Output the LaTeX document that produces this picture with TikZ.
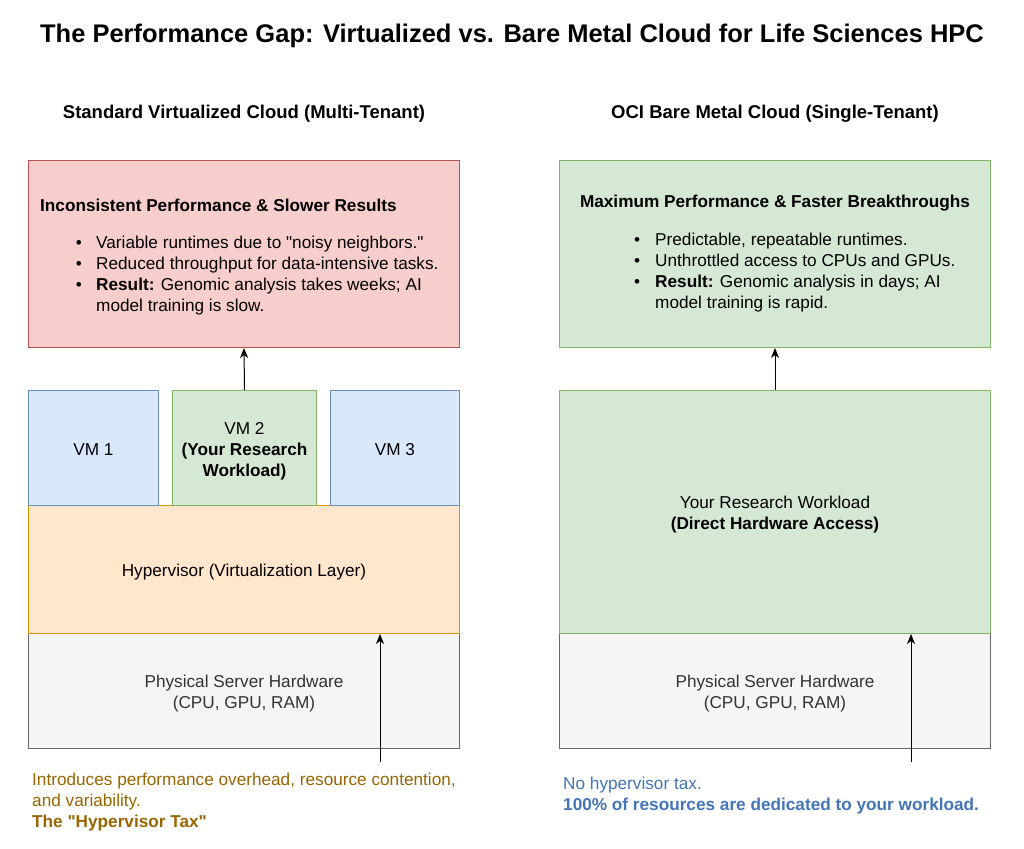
\documentclass[tikz,border=0pt]{standalone}
\usepackage{fontspec}
\setmainfont{Liberation Sans}
\usetikzlibrary{arrows.meta}
\definecolor{redfill}{HTML}{F8CECC}
\definecolor{redline}{HTML}{B85450}
\definecolor{grnfill}{HTML}{D5E8D4}
\definecolor{grnline}{HTML}{82B366}
\definecolor{blufill}{HTML}{DAE8FC}
\definecolor{bluline}{HTML}{6C8EBF}
\definecolor{orgfill}{HTML}{FFE6CC}
\definecolor{orgline}{HTML}{D79B00}
\definecolor{gryfill}{HTML}{F5F5F5}
\definecolor{gryline}{HTML}{666666}
\definecolor{gtext}{HTML}{333333}
\definecolor{browntext}{HTML}{996600}
\definecolor{bluetext}{HTML}{4475B8}
\newcommand{\dq}{\XeTeXglyph\the\XeTeXcharglyph"22\relax}
\newcommand{\lines}[1]{\raisebox{-3pt}[\height][\depth]{\begin{tabular}{@{}c@{}}#1\end{tabular}}}
\begin{document}
\begin{tikzpicture}[x=1pt,y=-1pt,
  box/.style={draw, line width=1pt, inner sep=0pt, anchor=north west,
    font=\fontsize{17.2}{21}\selectfont},
  txt/.style={inner sep=0pt, font=\fontsize{17.2}{21}\selectfont, text height=16pt, text depth=1pt},
  arr/.style={line width=1pt, -{Stealth[length=10pt,width=8pt,inset=3pt]}}]
\useasboundingbox (0,0) rectangle (1024,848);
\fill[white] (0,0) rectangle (1024,848);

\node[inner sep=0pt, font=\fontsize{25.5}{30}\selectfont\bfseries] (title) at (512,35.5) {The Performance Gap: Virtualized vs. Bare Metal Cloud for Life Sciences HPC};
\node[inner sep=0pt, font=\fontsize{18.5}{22}\selectfont\bfseries] (hl) at (244,113.5) {Standard Virtualized Cloud (Multi-Tenant)};
\node[inner sep=0pt, font=\fontsize{18.5}{22}\selectfont\bfseries] (hr) at (775,113.5) {OCI Bare Metal Cloud (Single-Tenant)};

% left column
\node[box, fill=redfill, draw=redline, minimum width=431pt, minimum height=187pt] (red) at (28,160) {};
\node[txt, anchor=west, font=\fontsize{17.2}{21}\selectfont\bfseries] (rt) at (40,204) {Inconsistent Performance \& Slower Results};
\node[txt] (rb1) at (79,241) {•};
\node[txt, anchor=west] (r1) at (96,241) {Variable runtimes due to \dq noisy neighbors.\dq};
\node[txt] (rb2) at (79,262) {•};
\node[txt, anchor=west] (r2) at (96,262) {Reduced throughput for data-intensive tasks.};
\node[txt] (rb3) at (79,283) {•};
\node[txt, anchor=west] (r3) at (96,283) {\textbf{Result:} Genomic analysis takes weeks; AI};
\node[txt, anchor=west] (r4) at (96,304) {model training is slow.};

\node[box, fill=gryfill, draw=gryline, text=gtext, minimum width=431pt, minimum height=115pt] (hwl) at (28,633) {\lines{Physical Server Hardware\\(CPU, GPU, RAM)}};
\node[box, fill=orgfill, draw=orgline, minimum width=431pt, minimum height=128pt] (hyp) at (28,505) {\lines{Hypervisor (Virtualization Layer)}};
\node[box, fill=blufill, draw=bluline, minimum width=130pt, minimum height=115pt] (vm1) at (28,390) {\lines{VM 1}};
\node[box, fill=grnfill, draw=grnline, minimum width=144pt, minimum height=115pt] (vm2) at (172,390) {\lines{VM 2\\\textbf{(Your Research}\\\textbf{Workload)}}};
\node[box, fill=blufill, draw=bluline, minimum width=129pt, minimum height=115pt] (vm3) at (330,390) {\lines{VM 3}};

\draw[arr] (vm2.north) -- (red.south);
\coordinate (tl) at (380,762);
\draw[arr] (tl) -- (tl |- hyp.south);

\node[txt, anchor=west, text=browntext] (bl1) at (32,778) {Introduces performance overhead, resource contention,};
\node[txt, anchor=west, text=browntext] (bl2) at (32,799) {and variability.};
\node[txt, anchor=west, text=browntext, font=\fontsize{17.2}{21}\selectfont\bfseries] (bl3) at (32,820) {The \dq Hypervisor Tax\dq};

% right column
\node[box, fill=grnfill, draw=grnline, minimum width=431pt, minimum height=187pt] (grn) at (559,160) {};
\node[txt, font=\fontsize{17.2}{21}\selectfont\bfseries] (gt) at (775,200) {Maximum Performance \& Faster Breakthroughs};
\node[txt] (gb1) at (637,238) {•};
\node[txt, anchor=west] (g1) at (655,238) {Predictable, repeatable runtimes.};
\node[txt] (gb2) at (637,259) {•};
\node[txt, anchor=west] (g2) at (655,259) {Unthrottled access to CPUs and GPUs.};
\node[txt] (gb3) at (637,280) {•};
\node[txt, anchor=west] (g3) at (655,280) {\textbf{Result:} Genomic analysis in days; AI};
\node[txt, anchor=west] (g4) at (655,301) {model training is rapid.};

\node[box, fill=gryfill, draw=gryline, text=gtext, minimum width=431pt, minimum height=115pt] (hwr) at (559,633) {\lines{Physical Server Hardware\\(CPU, GPU, RAM)}};
\node[box, fill=grnfill, draw=grnline, minimum width=431pt, minimum height=243pt] (wl) at (559,390) {\lines{Your Research Workload\\\textbf{(Direct Hardware Access)}}};

\draw[arr] (wl.north) -- (grn.south);
\coordinate (tr) at (911,762);
\draw[arr] (tr) -- (tr |- wl.south);

\node[txt, anchor=west, text=bluetext] (br1) at (563,782) {No hypervisor tax.};
\node[txt, anchor=west, text=bluetext, font=\fontsize{17.2}{21}\selectfont\bfseries] (br2) at (563,803) {100\% of resources are dedicated to your workload.};
\end{tikzpicture}
\end{document}
